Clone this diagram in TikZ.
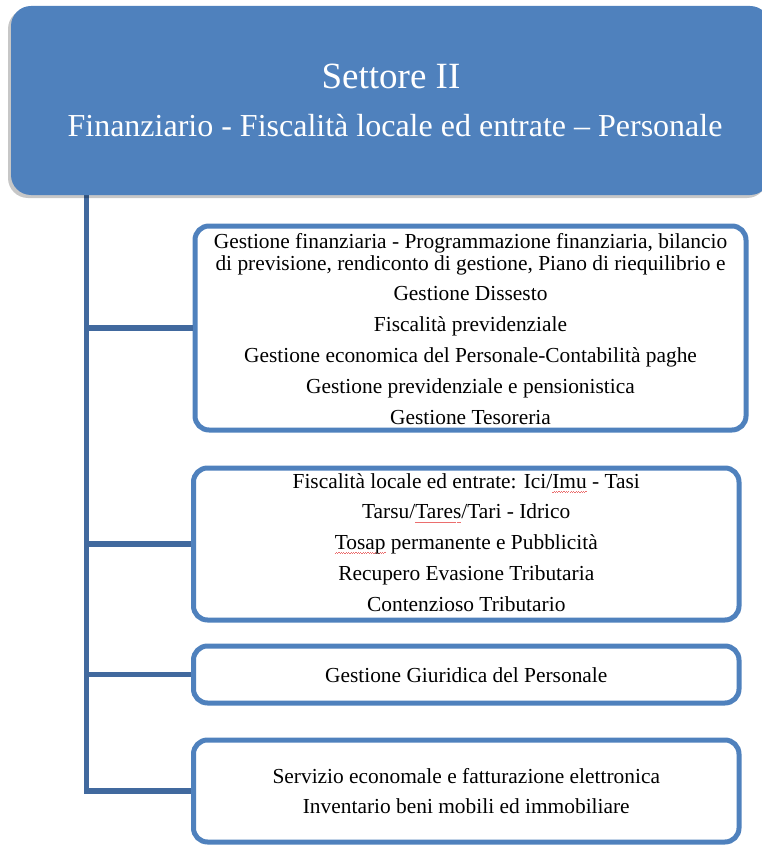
\documentclass[tikz,border=0pt]{standalone}
\usepackage{fontspec}
\setmainfont{Liberation Serif}
\usetikzlibrary{shadows}
\definecolor{accent}{HTML}{4F81BD}
\definecolor{spinecol}{RGB}{65,105,158}
\definecolor{spellred}{RGB}{235,110,110}
\newsavebox\spellbox
\newcommand\spellmark[1]{\sbox\spellbox{#1}\rlap{\hbox to\wd\spellbox{\color{spellred}\xleaders\hbox{\rule[-4.2pt]{1.2pt}{0.7pt}\rule[-3.5pt]{1.2pt}{0.7pt}}\hfil}}#1}
\tikzset{
  headbox/.style={fill=accent, draw=none, rounded corners=20pt, inner sep=0pt,
    drop shadow={shadow xshift=-3pt, shadow yshift=-3pt, opacity=0.22, fill=black}},
  subbox/.style={draw=accent, line width=5pt, rounded corners=14pt, fill=white, inner sep=0pt},
  bodytxt/.style={anchor=base, inner sep=0pt, font=\fontsize{21.4}{30.8}\selectfont},
  branch/.style={draw=spinecol, line width=5.5pt}
}
\begin{document}
\begin{tikzpicture}[x=1pt,y=-1pt]
\useasboundingbox (0,0) rectangle (762,845);

% spine coordinate
\coordinate (spinetop) at (86.5,190);

% sub boxes
\node[subbox, minimum width=551pt, minimum height=204pt] (b1) at (470.5,328) {};
\node[subbox, minimum width=545.5pt, minimum height=152pt] (b2) at (466.25,544) {};
\node[subbox, minimum width=545.5pt, minimum height=57pt] (b3) at (466.25,674.5) {};
\node[subbox, minimum width=545.5pt, minimum height=102pt] (b4) at (466.25,791) {};

% connectors
\draw[branch] (spinetop) |- (b4.west);
\draw[branch] (spinetop |- b1.west) -- (b1.west);
\draw[branch] (spinetop |- b2.west) -- (b2.west);
\draw[branch] (spinetop |- b3.west) -- (b3.west);

% header box
\node[headbox, minimum width=759pt, minimum height=189pt] (top) at (390.5,100.5) {};
\node[anchor=base, inner sep=0pt, text=white, font=\fontsize{37}{40}\selectfont] (title) at (391,89) {Settore II};
\node[anchor=base, inner sep=0pt, text=white, font=\fontsize{32}{36}\selectfont] (subtitle) at (395,137) {Finanziario - Fiscalità locale ed entrate – Personale};

% texts
\node[bodytxt] (t1) at (470.5,248) {\begin{tabular}[t]{@{}c@{}}
Gestione finanziaria - Programmazione finanziaria, bilancio\\[-8.8pt]
di previsione, rendiconto di gestione, Piano di riequilibrio e\\
Gestione Dissesto\\
Fiscalità previdenziale\\
Gestione economica del Personale-Contabilità paghe\\
Gestione previdenziale e pensionistica\\
Gestione Tesoreria
\end{tabular}};

\node[bodytxt] (t2) at (466.25,488) {\begin{tabular}[t]{@{}c@{}}
Fiscalità locale ed entrate: Ici/\spellmark{Imu} - Tasi\\
Tarsu/\spellmark{Tares}/Tari - Idrico\\
\spellmark{Tosap} permanente e Pubblicità\\
Recupero Evasione Tributaria\\
Contenzioso Tributario
\end{tabular}};

\node[bodytxt] (t3) at (466.25,682) {Gestione Giuridica del Personale};

\node[bodytxt] (t4) at (466.25,783) {\begin{tabular}[t]{@{}c@{}}
Servizio economale e fatturazione elettronica\\
Inventario beni mobili ed immobiliare
\end{tabular}};
\end{tikzpicture}
\end{document}
